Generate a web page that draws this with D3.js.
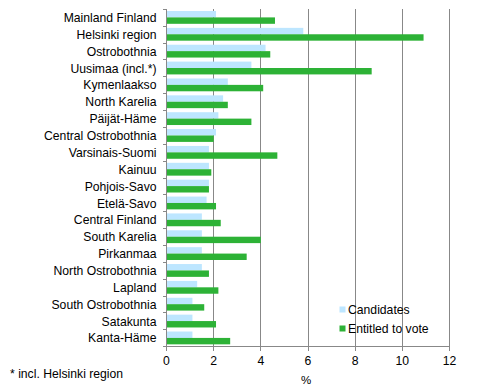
<!DOCTYPE html>
<html><head><meta charset="utf-8">
<script src="https://cdn.jsdelivr.net/npm/d3@7"></script>
<style>body{margin:0;background:#fff}svg{display:block;font-family:"Liberation Sans",Arial,sans-serif}</style>
</head><body><svg id="c" width="484" height="389"></svg>
<script>
const categories = ["Mainland Finland","Helsinki region","Ostrobothnia","Uusimaa (incl.*)","Kymenlaakso","North Karelia","Päijät-Häme","Central Ostrobothnia","Varsinais-Suomi","Kainuu","Pohjois-Savo","Etelä-Savo","Central Finland","South Karelia","Pirkanmaa","North Ostrobothnia","Lapland","South Ostrobothnia","Satakunta","Kanta-Häme"];
const candidates = [2.1,5.8,4.2,3.6,2.6,2.4,2.2,2.1,1.8,1.8,1.8,1.7,1.5,1.5,1.5,1.5,1.3,1.1,1.1,1.1];
const entitled = [4.6,10.9,4.4,8.7,4.1,2.6,3.6,2.0,4.7,1.9,1.8,2.1,2.3,4.0,3.4,1.8,2.2,1.6,2.1,2.7];
const xTicks = [0,2,4,6,8,10,12];
const seriesNames = ["Candidates","Entitled to vote"];
const colors = ["#BDE6FF","#2DB236"];

const svg = d3.select("#c");
const pL = 166.5, pR = 449.5, pT = 9.3, pB = 346.7;
const x = d3.scaleLinear().domain([0,12]).range([pL,pR]);
const y = d3.scaleBand().domain(categories).range([pT,pB]).paddingInner(0).paddingOuter(0);
const bw = y.bandwidth();
const barH = bw*0.38, off = bw*0.1;
const fs = 12.2;

// gridlines
svg.append("g").selectAll("line").data(xTicks).join("line")
  .attr("x1",d=>x(d)).attr("x2",d=>x(d)).attr("y1",pT).attr("y2",pB+4)
  .attr("stroke","#888").attr("stroke-width",1).attr("shape-rendering","crispEdges");
svg.append("line").attr("x1",pL).attr("x2",pR).attr("y1",pB).attr("y2",pB)
  .attr("stroke","#888").attr("shape-rendering","crispEdges");
// y ticks
svg.append("g").selectAll("line").data(d3.range(categories.length+1)).join("line")
  .attr("x1",pL-4).attr("x2",pL).attr("y1",i=>pT+i*bw).attr("y2",i=>pT+i*bw)
  .attr("stroke","#888").attr("shape-rendering","crispEdges");

// bars
const g = svg.append("g");
g.selectAll("rect.c").data(categories).join("rect").attr("class","c")
  .attr("x",x(0)+0.5).attr("y",d=>y(d)+off).attr("height",barH)
  .attr("width",(d,i)=>x(candidates[i])-x(0)-0.5).attr("fill",colors[0]);
g.selectAll("rect.e").data(categories).join("rect").attr("class","e")
  .attr("x",x(0)+0.5).attr("y",d=>y(d)+off+barH).attr("height",barH)
  .attr("width",(d,i)=>x(entitled[i])-x(0)-0.5).attr("fill",colors[1]);

// category labels
svg.append("g").selectAll("text").data(categories).join("text")
  .attr("x",156.5).attr("y",d=>y(d)+bw/2+4.2).attr("text-anchor","end")
  .attr("font-size",fs).attr("fill","#000").text(d=>d);

// x tick labels
svg.append("g").selectAll("text").data(xTicks).join("text")
  .attr("x",d=>x(d)).attr("y",365).attr("text-anchor","middle")
  .attr("font-size",fs).text(d=>d);
svg.append("text").attr("x",306).attr("y",384).attr("text-anchor","middle").attr("font-size",11.5).text("%");

// footnote
svg.append("text").attr("x",10).attr("y",378).attr("font-size",fs).text("* incl. Helsinki region");

// legend
const lg = svg.append("g");
seriesNames.forEach((n,i)=>{
  lg.append("rect").attr("x",339.5).attr("y",306.5+i*19).attr("width",6).attr("height",6).attr("fill",colors[i]);
  lg.append("text").attr("x",348).attr("y",313.5+i*19).attr("font-size",fs).text(n);
});
</script></body></html>
